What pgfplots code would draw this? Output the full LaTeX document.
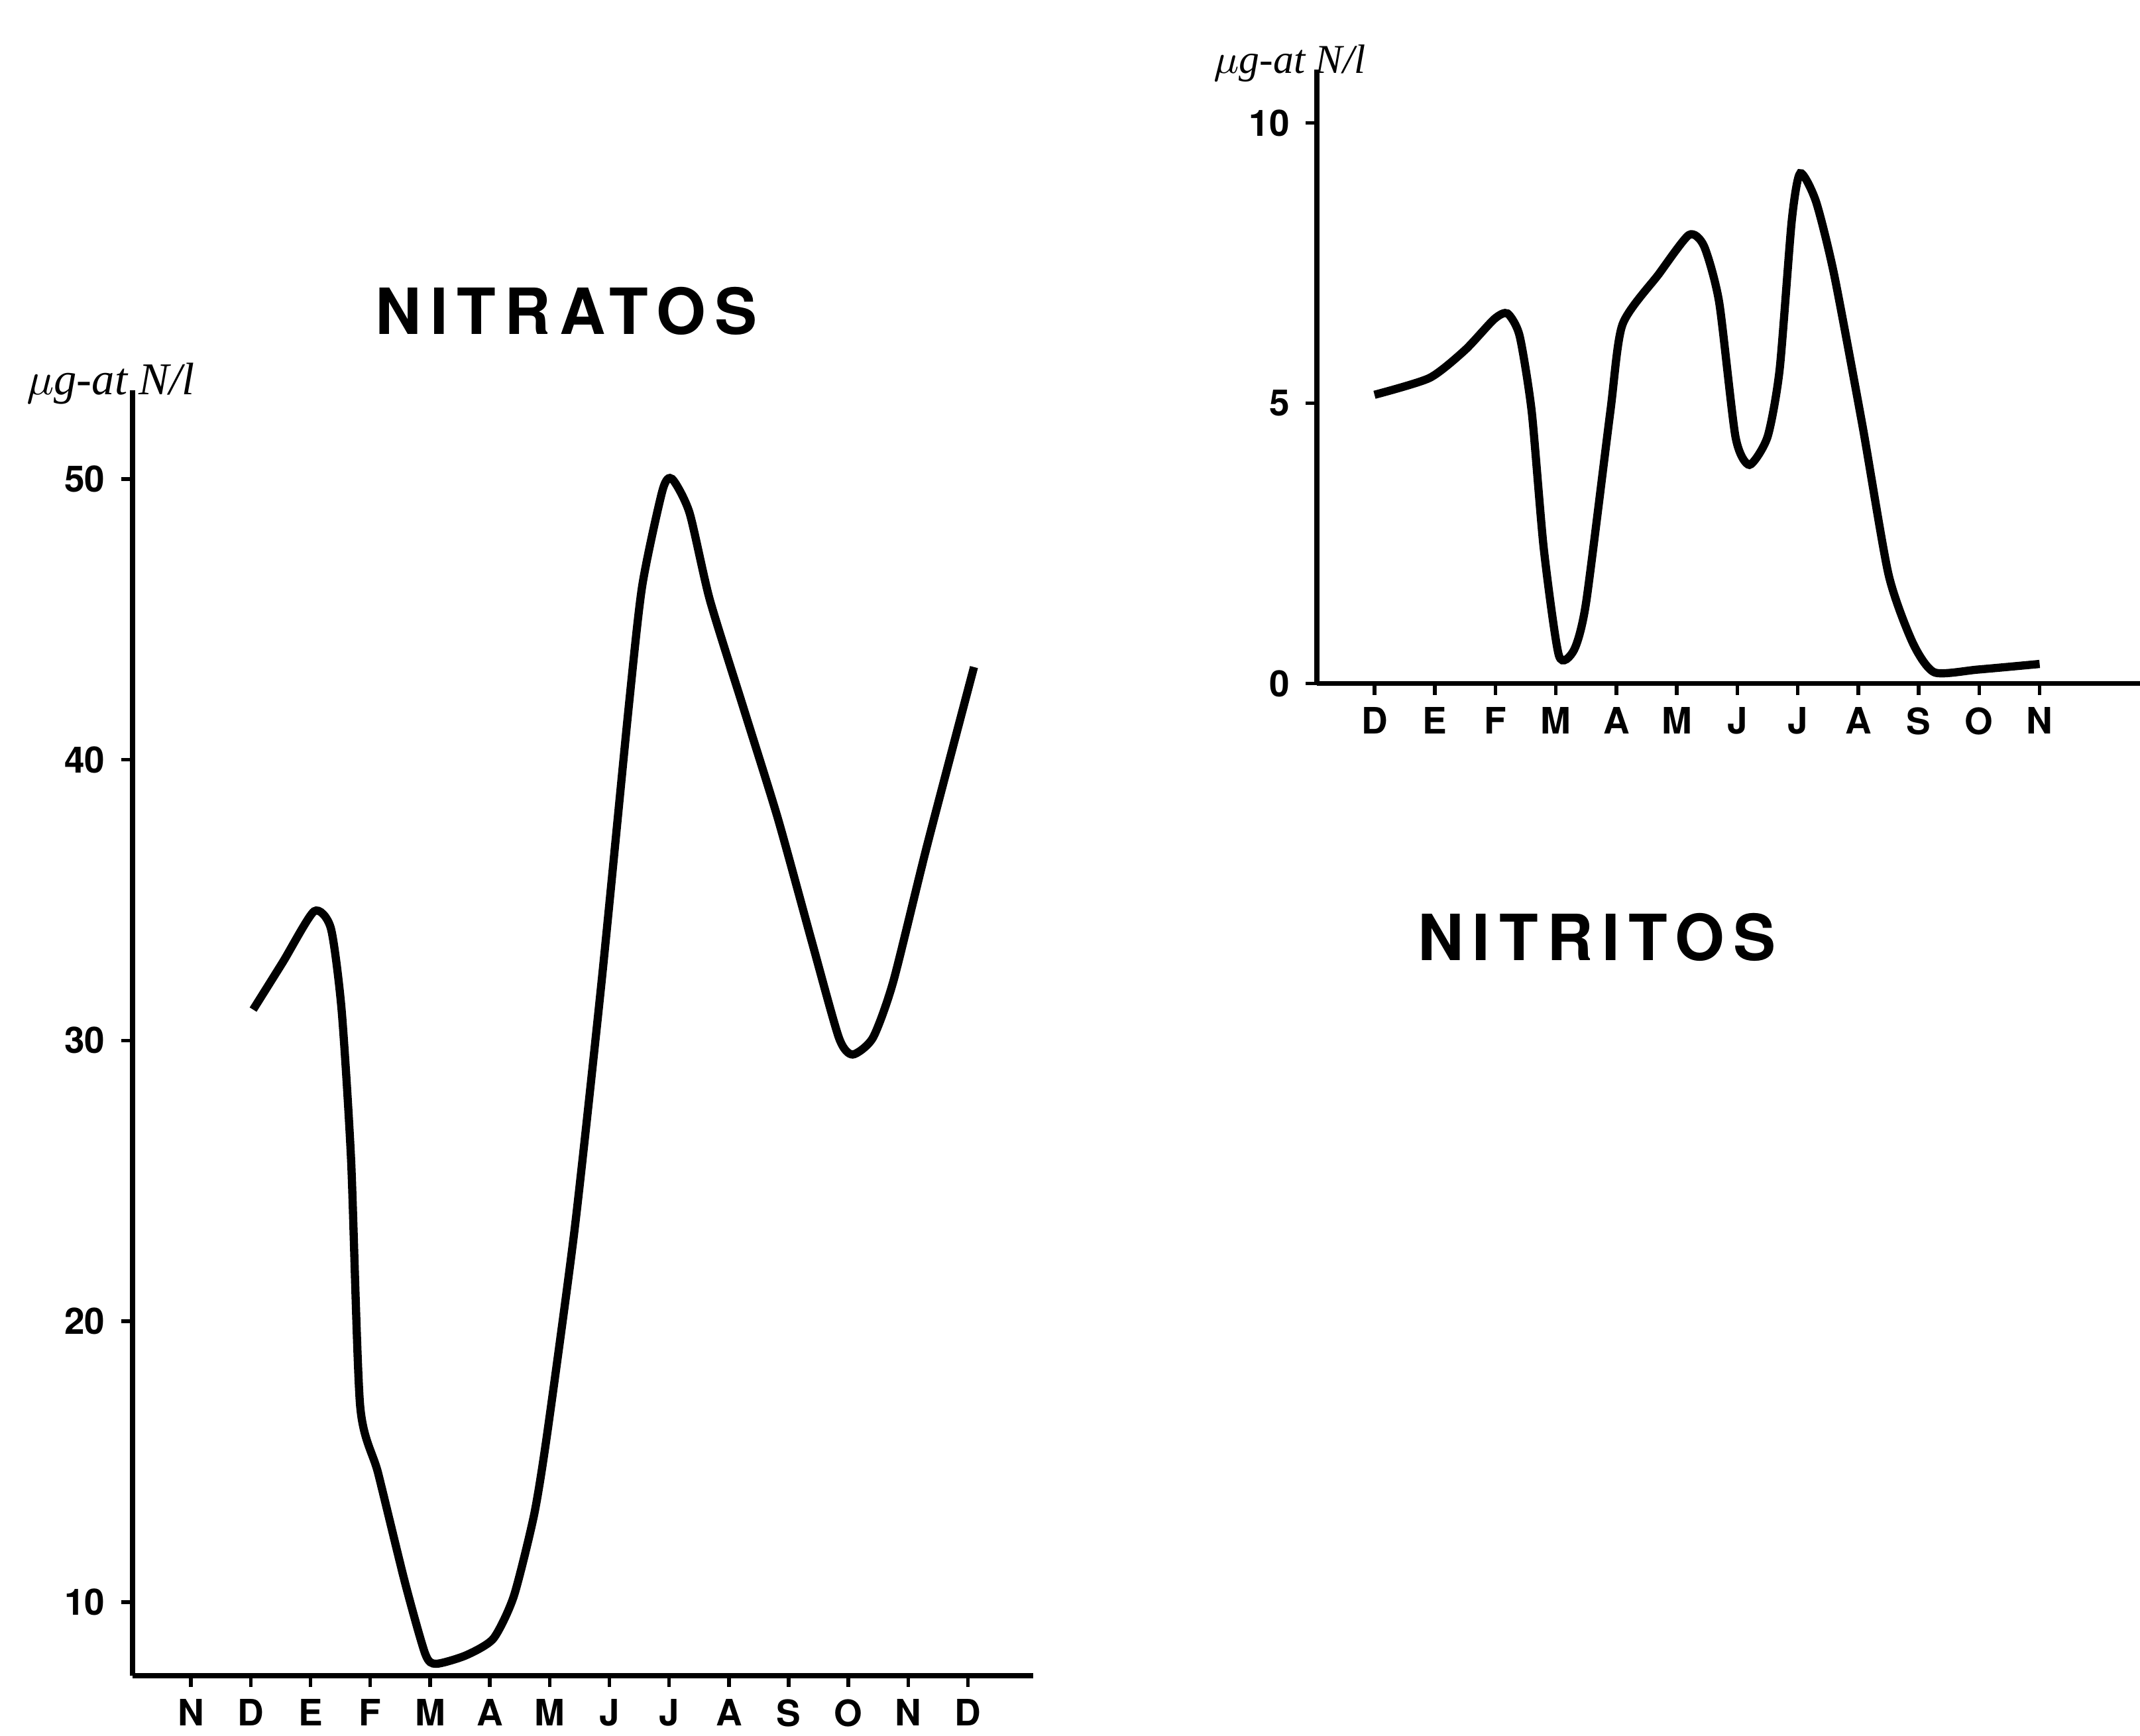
\documentclass[border=0pt]{standalone}
\usepackage{fontspec}
\setmainfont{TeX Gyre Heros}
\newfontfamily\hand{Liberation Serif}
\usepackage{pgfplots}
\pgfplotsset{compat=1.18}
\begin{document}
\begin{tikzpicture}
\useasboundingbox (0pt,0pt) rectangle (470.4pt,381.6pt);
\pgfplotsset{
  every axis/.append style={
    scale only axis, axis lines=left, axis line style={-, line width=1.1pt, black},
    tick align=outside, major tick length=2.5pt, tick style={line width=0.8pt, black},
    ticklabel style={font=\bfseries\fontsize{8}{9}\selectfont},
    /pgf/number format/assume math mode=true,
    clip=false,
  }
}
\begin{axis}[at={(29.1pt,13.2pt)}, anchor=south west, width=198pt, height=282.6pt,
  xmin=-0.98, xmax=14.09, ymin=7.38, ymax=53.16,
  xtick={0,...,13}, xticklabels={N,D,E,F,M,A,M,J,J,A,S,O,N,D},
  ytick={10,20,30,40,50}, x tick label style={yshift=0.8pt}]
\addplot[black, line width=1.8pt, smooth, tension=0.4] coordinates {
(1.04,31.1) (1.54,32.8) (2.06,34.6) (2.34,34.0) (2.52,31.1) (2.68,25.7) (2.83,17.0)
(3.13,14.6) (3.58,10.7) (3.92,8.15) (4.10,7.8) (4.60,8.1) (5.06,8.7) (5.40,10.2)
(5.74,13.1) (5.96,16.0) (6.42,23.3) (6.87,32.1) (7.32,41.8) (7.55,46.2) (7.89,49.6)
(8.05,50.0) (8.34,48.8) (8.68,45.7) (9.25,41.8) (9.82,37.9) (10.39,33.5) (10.84,30.1)
(11.07,29.5) (11.41,30.1) (11.75,32.1) (12.31,36.9) (13.10,43.3)
};
\end{axis}
\begin{axis}[at={(289.5pt,231.3pt)}, anchor=south west, width=180.9pt, height=135pt,
  xmin=-0.95, xmax=12.66, ymin=0, ymax=10.95,
  xtick={0,...,11}, xticklabels={D,E,F,M,A,M,J,J,A,S,O,N},
  ytick={0,5,10}, x tick label style={yshift=0.8pt}]
\addplot[black, line width=1.8pt, smooth, tension=0.4] coordinates {
(0,5.15) (0.91,5.45) (1.5,5.95) (1.98,6.5) (2.2,6.6) (2.4,6.2) (2.6,4.85) (2.8,2.4)
(3.05,0.5) (3.3,0.6) (3.5,1.45) (3.9,4.85) (4.1,6.4) (4.7,7.3) (5.2,8.0) (5.45,7.8)
(5.7,6.8) (5.97,4.4) (6.2,3.9) (6.5,4.4) (6.7,5.6) (6.9,8.25) (7.04,9.1) (7.3,8.6)
(7.6,7.3) (8.07,4.6) (8.5,1.95) (8.9,0.73) (9.26,0.2) (9.98,0.25) (11,0.35)
};
\end{axis}
\node at (124.5pt,313.2pt) {\bfseries\fontsize{14}{16}\selectfont\addfontfeatures{LetterSpace=14}NITRATOS};
\node at (351pt,175.5pt) {\bfseries\fontsize{14}{16}\selectfont\addfontfeatures{LetterSpace=14}NITRITOS};
\node at (24.3pt,297.2pt) {\hand\itshape\fontsize{10}{11}\selectfont $\mu$g-at N/l};
\node at (283.5pt,367.6pt) {\hand\itshape\fontsize{9}{10}\selectfont $\mu$g-at N/l};
\end{tikzpicture}
\end{document}
